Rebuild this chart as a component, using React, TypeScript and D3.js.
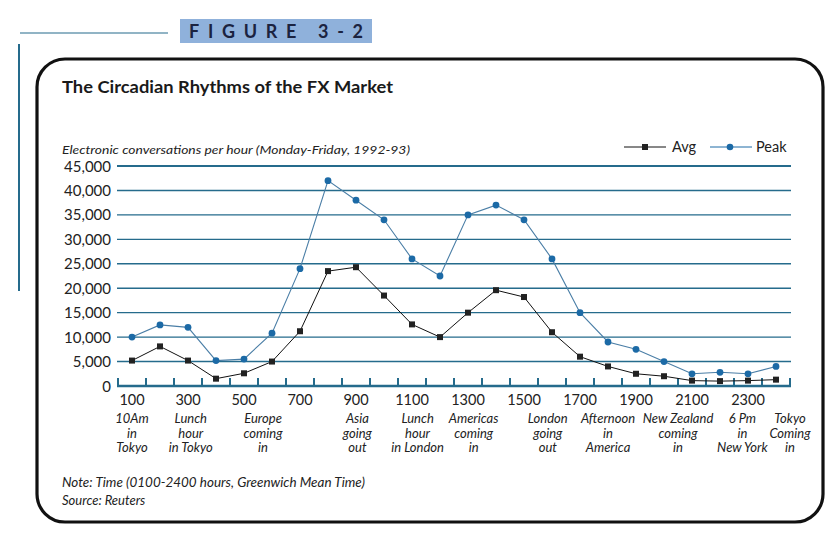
import * as d3 from "d3";
import React from "react";

// hours (GMT) 0100..2400
const hours = d3.range(100, 2500, 100);
const peak = [10000, 12500, 12000, 5200, 5500, 10800, 24000, 42000, 38000, 34000, 26000, 22500,
  35000, 37000, 34000, 26000, 15000, 9000, 7500, 5000, 2500, 2800, 2500, 4000];
const avg = [5200, 8100, 5200, 1500, 2600, 5000, 11200, 23500, 24300, 18500, 12600, 10000,
  15000, 19600, 18200, 11000, 6000, 4000, 2500, 2000, 1100, 1000, 1100, 1300];
const yTicks = [0, 5000, 10000, 15000, 20000, 25000, 30000, 35000, 40000, 45000];
const xLabels = [100, 300, 500, 700, 900, 1100, 1300, 1500, 1700, 1900, 2100, 2300];
const notes: { at: number; lines: string[] }[] = [
  { at: 100, lines: ["10Am", "in", "Tokyo"] },
  { at: 310, lines: ["Lunch", "hour", "in Tokyo"] },
  { at: 568, lines: ["Europe", "coming", "in"] },
  { at: 905, lines: ["Asia", "going", "out"] },
  { at: 1120, lines: ["Lunch", "hour", "in London"] },
  { at: 1320, lines: ["Americas", "coming", "in"] },
  { at: 1585, lines: ["London", "going", "out"] },
  { at: 1800, lines: ["Afternoon", "in", "America"] },
  { at: 2050, lines: ["New Zealand", "coming", "in"] },
  { at: 2280, lines: ["6 Pm", "in", "New York"] },
  { at: 2450, lines: ["Tokyo", "Coming", "in"] },
];

const W = 834, H = 548;
const font = "Lato, 'Open Sans', sans-serif";
const teal = "#256b8c";
const blue = "#1c6aa6";

export default function App() {
  const x = d3.scaleLinear().domain([50, 2450]).range([118, 790]);
  const y = d3.scaleLinear().domain([0, 45000]).range([386, 166]);
  const line = d3.line<number>().x((_, i) => x(hours[i])).y((d) => y(d));
  const tickPos = d3.range(50, 2500, 100);

  return (
    <svg width={W} height={H} style={{ position: "absolute", left: 0, top: 0, background: "#fff" }}
      fontFamily={font}>
      {/* figure header */}
      <line x1={20} x2={168} y1={33} y2={33} stroke={teal} strokeWidth={1.2} />
      <rect x={180} y={19} width={192} height={24} fill="#8fb1db" />
      <text x={189} y={38} fontSize={18} fontWeight={700} fill="#1b2340" textLength={174}
        lengthAdjust="spacing">FIGURE 3-2</text>
      <line x1={19} x2={19} y1={44} y2={291} stroke={teal} strokeWidth={2} />

      {/* frame */}
      <rect x={37} y={59} width={786} height={463} rx={28} ry={28} fill="none" stroke="#111"
        strokeWidth={3.2} />

      <text x={62} y={93} fontSize={17.5} fontWeight={700} fill="#1a1a1a" textLength={331}
        lengthAdjust="spacingAndGlyphs">
        The Circadian Rhythms of the FX Market
      </text>
      <text x={62} y={154} fontSize={12} fontStyle="italic" fill="#222" textLength={348}
        lengthAdjust="spacingAndGlyphs">
        Electronic conversations per hour (Monday-Friday, 1992-93)
      </text>

      {/* legend */}
      <line x1={624} x2={666} y1={147} y2={147} stroke="#111" strokeWidth={1} />
      <rect x={642} y={144} width={6} height={6} fill="#222" />
      <text x={672} y={152} fontSize={14.5} fill="#222">Avg</text>
      <line x1={710} x2={752} y1={147} y2={147} stroke={blue} strokeWidth={1} />
      <circle cx={730} cy={147} r={3.3} fill={blue} />
      <text x={756} y={152} fontSize={14.5} fill="#222">Peak</text>

      {/* grid */}
      {yTicks.filter((t) => t > 0).map((t) => (
        <line key={t} x1={117} x2={791} y1={y(t)} y2={y(t)} stroke={teal}
          strokeWidth={t === 45000 ? 2.2 : 1.4} />
      ))}
      {yTicks.map((t) => (
        <text key={t} x={111} y={y(t) + 5.5} fontSize={15} textAnchor="end" fill="#222">
          {d3.format(",")(t)}
        </text>
      ))}

      {/* x axis */}
      <line x1={117} x2={791} y1={386} y2={386} stroke={teal} strokeWidth={2.6} />
      {tickPos.map((t) => (
        <line key={t} x1={x(t)} x2={x(t)} y1={386} y2={378} stroke={teal} strokeWidth={2} />
      ))}
      {xLabels.map((h) => (
        <text key={h} x={x(h)} y={405} fontSize={14.5} textAnchor="middle" fill="#222">{h}</text>
      ))}
      {notes.map((n) =>
        n.lines.map((s, i) => (
          <text key={n.at + s} x={x(n.at)} y={423 + i * 14.5} fontSize={13} fontStyle="italic"
            textAnchor="middle" fill="#222">{s}</text>
        ))
      )}

      {/* series */}
      <path d={line(peak) ?? ""} fill="none" stroke="#4a7ea6" strokeWidth={1.1} />
      {peak.map((v, i) => (
        <circle key={i} cx={x(hours[i])} cy={y(v)} r={3.4} fill={blue} />
      ))}
      <path d={line(avg) ?? ""} fill="none" stroke="#111" strokeWidth={1} />
      {avg.map((v, i) => (
        <rect key={i} x={x(hours[i]) - 3} y={y(v) - 3} width={6} height={6} fill="#222" />
      ))}

      {/* notes */}
      <text x={62} y={487} fontSize={13} fontStyle="italic" fill="#222" textLength={303}
        lengthAdjust="spacingAndGlyphs">
        Note: Time (0100-2400 hours, Greenwich Mean Time)
      </text>
      <text x={62} y={505} fontSize={13} fontStyle="italic" fill="#222">Source: Reuters</text>
    </svg>
  );
}
